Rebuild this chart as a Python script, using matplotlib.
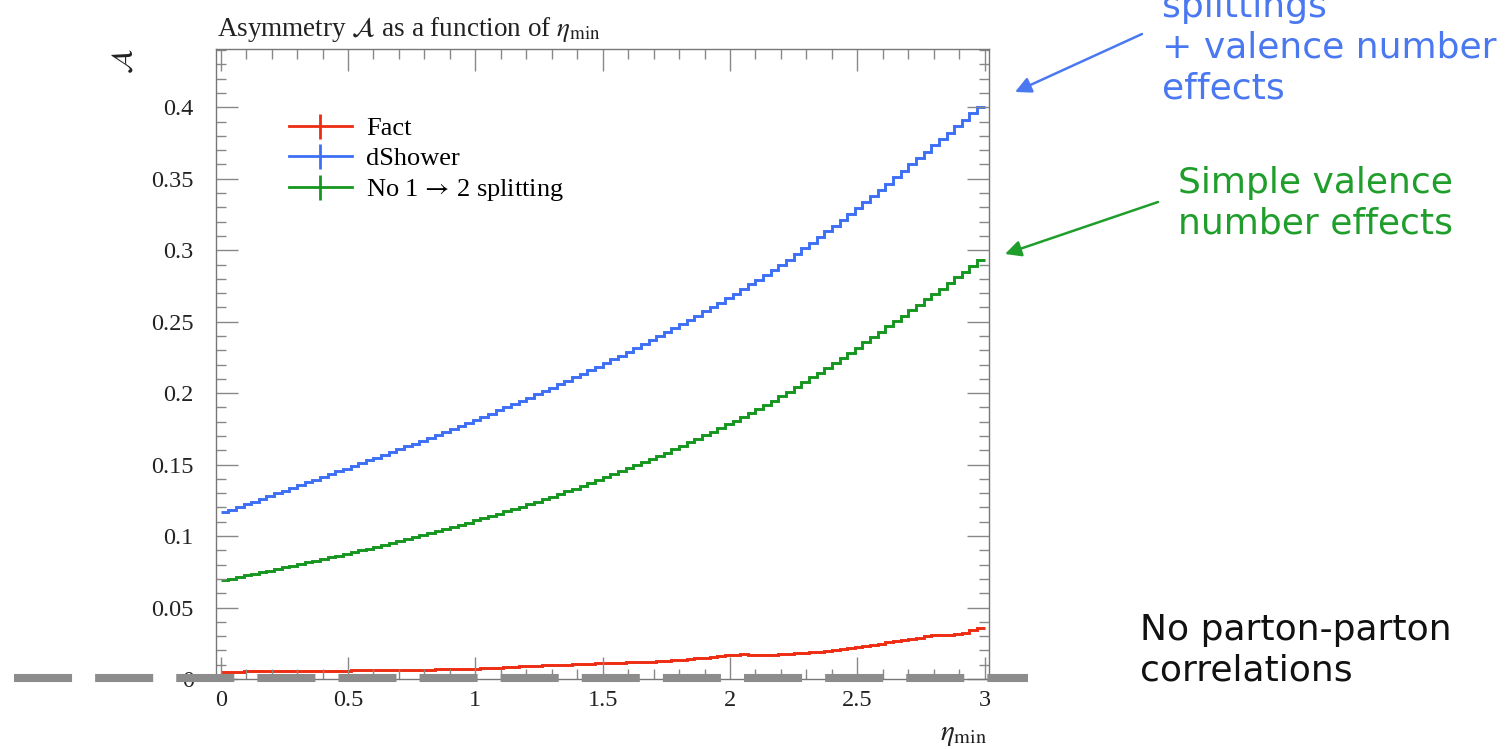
import numpy as np
import matplotlib.pyplot as plt
from matplotlib.lines import Line2D
from matplotlib.ticker import MultipleLocator, FuncFormatter

plt.rcParams['font.family'] = ['Liberation Serif', 'DejaVu Serif']
plt.rcParams['mathtext.fontset'] = 'stix'
plt.rcParams['lines.scale_dashes'] = False

# eta_min binning: 100 bins between 0 and 3
eta_edges = np.linspace(0.0, 3.0, 101)

fact = [
    0.0050, 0.0051, 0.0052, 0.0053, 0.0054, 0.0054, 0.0055, 0.0055, 0.0056, 0.0056,
    0.0056, 0.0057, 0.0057, 0.0056, 0.0055, 0.0057, 0.0059, 0.0060, 0.0060, 0.0061,
    0.0061, 0.0062, 0.0062, 0.0063, 0.0064, 0.0064, 0.0065, 0.0066, 0.0067, 0.0068,
    0.0069, 0.0070, 0.0071, 0.0072, 0.0074, 0.0076, 0.0079, 0.0082, 0.0085, 0.0088,
    0.0091, 0.0094, 0.0096, 0.0098, 0.0100, 0.0101, 0.0103, 0.0105, 0.0107, 0.0109,
    0.0110, 0.0112, 0.0114, 0.0116, 0.0118, 0.0120, 0.0122, 0.0125, 0.0128, 0.0131,
    0.0135, 0.0140, 0.0145, 0.0150, 0.0155, 0.0160, 0.0165, 0.0170, 0.0172, 0.0170,
    0.0167, 0.0166, 0.0168, 0.0172, 0.0176, 0.0179, 0.0182, 0.0186, 0.0192, 0.0198,
    0.0204, 0.0210, 0.0217, 0.0224, 0.0232, 0.0240, 0.0248, 0.0256, 0.0264, 0.0272,
    0.0280, 0.0290, 0.0300, 0.0306, 0.0305, 0.0308, 0.0312, 0.0322, 0.0340, 0.0358,
]

dshower = [
    0.1165, 0.1184, 0.1203, 0.1222, 0.1241, 0.1260, 0.1279, 0.1298, 0.1317, 0.1336,
    0.1356, 0.1375, 0.1394, 0.1413, 0.1432, 0.1452, 0.1471, 0.1490, 0.1510, 0.1529,
    0.1548, 0.1568, 0.1587, 0.1607, 0.1627, 0.1647, 0.1667, 0.1688, 0.1708, 0.1729,
    0.1750, 0.1771, 0.1792, 0.1814, 0.1835, 0.1857, 0.1879, 0.1901, 0.1924, 0.1946,
    0.1968, 0.1991, 0.2015, 0.2038, 0.2062, 0.2086, 0.2110, 0.2135, 0.2160, 0.2185,
    0.2210, 0.2236, 0.2262, 0.2289, 0.2315, 0.2342, 0.2370, 0.2398, 0.2426, 0.2454,
    0.2483, 0.2512, 0.2542, 0.2572, 0.2602, 0.2633, 0.2665, 0.2697, 0.2729, 0.2761,
    0.2794, 0.2828, 0.2862, 0.2896, 0.2931, 0.2977, 0.3014, 0.3053, 0.3092, 0.3131,
    0.3171, 0.3211, 0.3252, 0.3294, 0.3336, 0.3379, 0.3422, 0.3466, 0.3510, 0.3555,
    0.3600, 0.3645, 0.3689, 0.3733, 0.3777, 0.3821, 0.3866, 0.3912, 0.3959, 0.4005,
]

no_split = [
    0.0691, 0.0702, 0.0713, 0.0724, 0.0735, 0.0746, 0.0758, 0.0769, 0.0780, 0.0792,
    0.0803, 0.0815, 0.0826, 0.0838, 0.0850, 0.0862, 0.0875, 0.0887, 0.0900, 0.0912,
    0.0925, 0.0938, 0.0951, 0.0965, 0.0978, 0.0992, 0.1006, 0.1020, 0.1034, 0.1048,
    0.1063, 0.1078, 0.1093, 0.1109, 0.1124, 0.1140, 0.1156, 0.1172, 0.1189, 0.1206,
    0.1223, 0.1240, 0.1258, 0.1276, 0.1294, 0.1313, 0.1332, 0.1351, 0.1370, 0.1390,
    0.1410, 0.1431, 0.1452, 0.1473, 0.1494, 0.1516, 0.1538, 0.1561, 0.1584, 0.1607,
    0.1631, 0.1655, 0.1680, 0.1704, 0.1730, 0.1755, 0.1782, 0.1808, 0.1835, 0.1863,
    0.1890, 0.1919, 0.1947, 0.1977, 0.2006, 0.2045, 0.2077, 0.2110, 0.2144, 0.2178,
    0.2212, 0.2248, 0.2283, 0.2319, 0.2356, 0.2393, 0.2431, 0.2467, 0.2504, 0.2541,
    0.2579, 0.2617, 0.2656, 0.2694, 0.2732, 0.2771, 0.2810, 0.2850, 0.2892, 0.2935,
]

series_labels = ['Fact', 'dShower', r'No 1$\,\rightarrow\,$2 splitting']
series_colors = ['#ee2c12', '#3d6ff5', '#15961f']

fig = plt.figure(figsize=(15.1, 7.49), dpi=100)
ax = fig.add_axes([0.1430, 0.0935, 0.5120, 0.8411])

for vals, col in zip([fact, dshower, no_split], series_colors):
    ax.stairs(vals, eta_edges, color=col, lw=2.1, baseline=None)

ax.set_xlim(-0.0185, 3.017)
ax.set_ylim(0.0, 0.4408)

# rivet-style frame: grey spines, inward ticks on all four sides
for sp in ax.spines.values():
    sp.set_color('#777777')
    sp.set_linewidth(1.0)
ax.xaxis.set_major_locator(MultipleLocator(0.5))
ax.xaxis.set_minor_locator(MultipleLocator(0.1))
ax.yaxis.set_major_locator(MultipleLocator(0.05))
ax.yaxis.set_minor_locator(MultipleLocator(0.01))
ax.tick_params(which='both', direction='in', top=True, right=True,
               color='#888888', width=1.0, labelsize=17.5, labelcolor='#222222')
ax.tick_params(which='major', length=16)
ax.tick_params(which='minor', length=7)
ax.tick_params(axis='y', pad=16)
ax.tick_params(axis='x', pad=8)
fmt = FuncFormatter(lambda v, pos: '%g' % round(v, 4))
ax.xaxis.set_major_formatter(fmt)
ax.yaxis.set_major_formatter(fmt)

fig.text(0.1437, 0.960, r'Asymmetry $\mathcal{A}$ as a function of $\eta_{\rm min}$',
         fontsize=19.5, ha='left', va='center', color='#222222')
fig.text(0.0828, 0.918, r'$\mathcal{A}$', fontsize=21, rotation=90,
         ha='center', va='center', color='#222222')
fig.text(0.654, 0.002, r'$\eta_{\rm min}$', fontsize=21,
         ha='right', va='bottom', color='#222222')

handles = [Line2D([], [], color=c, lw=2.0, marker='|', markersize=18,
                  markeredgewidth=2.0) for c in series_colors]
ax.legend(handles, series_labels, loc='upper left', bbox_to_anchor=(0.094, 0.893),
          frameon=False, fontsize=19, handlelength=2.4, handletextpad=0.55,
          labelspacing=0.26, borderpad=0.0, borderaxespad=0.0)

# grey dashed baseline across the slide
fig.add_artist(Line2D([14 / 1510, 1028 / 1510], [1 - 678 / 749, 1 - 678 / 749],
                      transform=fig.transFigure, color='#8c8c8c', lw=5.8,
                      linestyle=(0, (41.8, 16.6)), dash_capstyle='butt', zorder=10))

# side notes with arrows
note_font = 'DejaVu Sans'
fig.text(1162 / 1510, 1 - 48 / 749, 'splittings\n+ valence number\neffects',
         fontsize=26, family=note_font, color='#4a78f0', ha='left', va='center',
         linespacing=1.25)
fig.text(1178 / 1510, 1 - 203 / 749, 'Simple valence\nnumber effects',
         fontsize=26, family=note_font, color='#1f9e2c', ha='left', va='center',
         linespacing=1.25)
fig.text(1140 / 1510, 1 - 650 / 749, 'No parton-parton\ncorrelations',
         fontsize=26, family=note_font, color='#111111', ha='left', va='center',
         linespacing=1.25)

fig.add_artist(plt.Annotation('', xy=(1015 / 1510, 1 - 92 / 749), xycoords='figure fraction',
                              xytext=(1142 / 1510, 1 - 34 / 749), textcoords='figure fraction',
                              arrowprops=dict(arrowstyle='-|>', color='#4a78f0', lw=1.8,
                                              mutation_scale=24, shrinkA=0, shrinkB=0)))
fig.add_artist(plt.Annotation('', xy=(1005 / 1510, 1 - 254 / 749), xycoords='figure fraction',
                              xytext=(1158 / 1510, 1 - 202 / 749), textcoords='figure fraction',
                              arrowprops=dict(arrowstyle='-|>', color='#1f9e2c', lw=1.8,
                                              mutation_scale=24, shrinkA=0, shrinkB=0)))

fig.savefig('out.png', dpi=100)
